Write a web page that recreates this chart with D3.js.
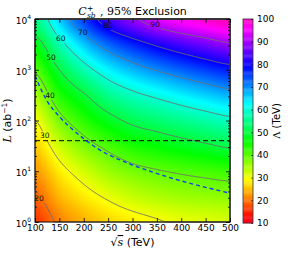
<!DOCTYPE html>
<html>
<head>
<meta charset="utf-8">
<script src="https://cdn.jsdelivr.net/npm/d3@7"></script>
<style>
  body { margin: 0; background: #fff; }
  text { font-family: "DejaVu Sans", sans-serif; white-space: pre; }
</style>
</head>
<body>
<svg id="chart" width="306" height="255"></svg>
<script>
// Lambda (TeV) on a coarse grid:
// columns are sqrt(s) in TeV, rows are log10(L / ab^-1) from bottom to top
const sqrtS = [100, 150, 200, 250, 300, 350, 400, 450, 500];
const logLum = [0, 0.5, 1, 1.5, 2, 2.5, 3, 3.5, 4];
const lambdaGrid = [
  [16.0, 21.1, 24.3, 26.7, 28.3, 29.6, 30.7, 31.4, 32.1],
  [19.1, 24.6, 28.0, 30.7, 33.1, 34.6, 35.6, 36.3, 36.7],
  [22.6, 28.2, 32.3, 35.9, 38.2, 39.6, 40.7, 41.6, 42.5],
  [26.2, 32.7, 37.7, 41.3, 44.4, 46.1, 47.7, 49.2, 50.7],
  [29.8, 38.1, 43.4, 47.8, 51.3, 53.2, 55.1, 56.9, 58.6],
  [35.1, 43.9, 49.4, 55.1, 58.6, 61.1, 63.5, 65.7, 67.7],
  [40.6, 50.0, 57.5, 63.3, 67.3, 70.4, 73.1, 75.5, 77.7],
  [47.1, 57.7, 66.3, 72.7, 77.1, 80.8, 83.9, 86.7, 89.3],
  [54.4, 65.8, 75.4, 83.2, 88.8, 93.4, 96.6, 99.0, 101.0]
];

// contour levels and where their inline labels sit
const contourLevels = [20, 30, 40, 50, 60, 70, 80, 90];
const labelSqrtS = [108, 120, 131, 133, 153, 198, 250, 346];
const labelLum = [2.9, 50, 309, 1780, 4070, 5370, 7410, 7940];

// blue dashed curve
const blueSqrtS = [100, 125, 150, 200, 233, 268, 301, 371, 500];
const blueLum = [759, 240, 120, 44, 26.3, 17.8, 13.2, 7.8, 3.7];

// horizontal reference luminosity
const lumTarget = 40;

const xTicks = [100, 150, 200, 250, 300, 350, 400, 450, 500];
const yTicks = [1, 10, 100, 1000, 10000];
const cbTicks = [10, 20, 30, 40, 50, 60, 70, 80, 90, 100];

// gist_rainbow colour stops
const cmapStops = [0, 0.03, 0.215, 0.4, 0.586, 0.77, 0.954, 1];
const cmapColors = ['rgb(255,0,41)', '#ff0000', '#ffff00', '#00ff00', '#00ffff', '#0000ff', '#ff00ff', 'rgb(255,0,191)'];

const svg = d3.select('#chart');
const x = d3.scaleLinear().domain([100, 500]).range([35, 230]);
const y = d3.scaleLog().domain([1, 1e4]).range([222, 19]);
const cy = d3.scaleLinear().domain([10, 100]).range([223, 19]);
const color = d3.scaleLinear()
  .domain(cmapStops.map(t => 10 + 90 * t))
  .range(cmapColors)
  .clamp(true);

// Catmull-Rom along one axis
function cr(p0, p1, p2, p3, t) {
  return 0.5 * (2 * p1 + (-p0 + p2) * t + (2 * p0 - 5 * p1 + 4 * p2 - p3) * t * t +
    (-p0 + 3 * p1 - 3 * p2 + p3) * t * t * t);
}
function cell(arr, v) {
  const i = Math.min(arr.length - 2, Math.max(0, d3.bisectRight(arr, v) - 1));
  return [i, (v - arr[i]) / (arr[i + 1] - arr[i])];
}
function lambdaAt(s, lg) {
  const [iu, tu] = cell(sqrtS, s);
  const [iv, tv] = cell(logLum, lg);
  const n = sqrtS.length, m = logLum.length;
  const rowVal = r => {
    const row = lambdaGrid[Math.min(m - 1, Math.max(0, r))];
    const g = k => row[Math.min(n - 1, Math.max(0, k))];
    return cr(g(iu - 1), g(iu), g(iu + 1), g(iu + 2), tu);
  };
  return cr(rowVal(iv - 1), rowVal(iv), rowVal(iv + 1), rowVal(iv + 2), tv);
}

// sample field at pixel centres
const x0 = x.range()[0], yTop = y.range()[1];
const W = Math.round(x.range()[1] - x0);
const H = Math.round(y.range()[0] - yTop);
const field = new Float64Array(W * H);
for (let j = 0; j < H; j++) {
  const lg = Math.log10(y.invert(yTop + j + 0.5));
  for (let i = 0; i < W; i++) {
    field[j * W + i] = lambdaAt(x.invert(x0 + i + 0.5), lg);
  }
}

// colour image
const canvas = document.createElement('canvas');
canvas.width = W;
canvas.height = H;
const ctx = canvas.getContext('2d');
const img = ctx.createImageData(W, H);
for (let k = 0; k < W * H; k++) {
  const c = d3.rgb(color(field[k]));
  img.data[4 * k] = c.r;
  img.data[4 * k + 1] = c.g;
  img.data[4 * k + 2] = c.b;
  img.data[4 * k + 3] = 255;
}
ctx.putImageData(img, 0, 0);
svg.append('image')
  .attr('x', x0).attr('y', yTop)
  .attr('width', W).attr('height', H)
  .attr('preserveAspectRatio', 'none')
  .attr('href', canvas.toDataURL());

// mask that opens gaps in the contour lines for labels
const labels = contourLevels.map((v, i) => ({ v: v, s: labelSqrtS[i], L: labelLum[i] }));
const mask = svg.append('defs').append('mask').attr('id', 'lblmask');
mask.append('rect').attr('x', 0).attr('y', 0).attr('width', 306).attr('height', 255).attr('fill', 'white');
mask.selectAll('rect.gap')
  .data(labels)
  .join('rect')
  .attr('class', 'gap')
  .attr('x', d => x(d.s) - 6)
  .attr('y', d => y(d.L) - 4.5)
  .attr('width', 12)
  .attr('height', 9)
  .attr('fill', 'black');

const contours = d3.contours().size([W, H]).thresholds(contourLevels)(field);
const cpath = d3.geoPath(d3.geoIdentity().translate([x0, yTop]));
svg.append('g')
  .attr('mask', 'url(#lblmask)')
  .selectAll('path')
  .data(contours)
  .join('path')
  .attr('d', cpath)
  .attr('fill', 'none')
  .attr('stroke', '#6e6e6e')
  .attr('stroke-width', 1);

svg.append('g')
  .selectAll('text')
  .data(labels)
  .join('text')
  .attr('x', d => x(d.s))
  .attr('y', d => y(d.L))
  .attr('dy', '0.35em')
  .attr('text-anchor', 'middle')
  .attr('font-size', 7.5)
  .attr('fill', '#111')
  .text(d => d.v);

// black dashed target luminosity
svg.append('line')
  .attr('x1', x(100)).attr('x2', x(500))
  .attr('y1', y(lumTarget)).attr('y2', y(lumTarget))
  .attr('stroke', '#000')
  .attr('stroke-width', 1)
  .attr('stroke-dasharray', '5,3');

// blue dashed curve
const blueLine = d3.line()
  .x((d, i) => x(blueSqrtS[i]))
  .y(d => y(d))
  .curve(d3.curveMonotoneX);
svg.append('path')
  .attr('d', blueLine(blueLum))
  .attr('fill', 'none')
  .attr('stroke', '#1a3cf0')
  .attr('stroke-width', 1.4)
  .attr('stroke-dasharray', '4,3');

// frame
svg.append('rect')
  .attr('x', x0).attr('y', yTop)
  .attr('width', W).attr('height', H)
  .attr('fill', 'none')
  .attr('stroke', '#000')
  .attr('stroke-width', 1);

// axes, ticks pointing inward on all four sides
const minorTicks = [];
for (let e = 1; e < 1e4; e *= 10) {
  for (let k = 2; k <= 9; k++) minorTicks.push(k * e);
}
function styleAxis(g) {
  g.select('.domain').remove();
  g.selectAll('line').attr('stroke', '#000').attr('stroke-width', 0.8);
}
svg.append('g')
  .attr('transform', `translate(0,${y.range()[0]})`)
  .call(d3.axisBottom(x).tickValues(xTicks).tickSize(-4).tickPadding(3).tickFormat(d3.format('d')))
  .call(styleAxis)
  .selectAll('text').attr('font-size', 9).attr('fill', '#000');
svg.append('g')
  .attr('transform', `translate(0,${yTop})`)
  .call(d3.axisTop(x).tickValues(xTicks).tickSize(-4).tickFormat(''))
  .call(styleAxis);

const yAxis = svg.append('g')
  .attr('transform', `translate(${x0},0)`)
  .call(d3.axisLeft(y).tickValues(yTicks).tickSize(-4).tickPadding(4).tickFormat(''))
  .call(styleAxis);
yAxis.selectAll('.tick text')
  .attr('font-size', 9)
  .attr('fill', '#000')
  .attr('dy', '0.5em')
  .each(function(d) {
    const t = d3.select(this);
    t.append('tspan').text('10');
    t.append('tspan').attr('font-size', 6).attr('dy', '-0.8em').text(Math.round(Math.log10(d)));
  });
svg.append('g')
  .attr('transform', `translate(${x0},0)`)
  .call(d3.axisLeft(y).tickValues(minorTicks).tickSize(-2).tickFormat(''))
  .call(styleAxis);
svg.append('g')
  .attr('transform', `translate(${x.range()[1]},0)`)
  .call(d3.axisRight(y).tickValues(yTicks).tickSize(-4).tickFormat(''))
  .call(styleAxis);
svg.append('g')
  .attr('transform', `translate(${x.range()[1]},0)`)
  .call(d3.axisRight(y).tickValues(minorTicks).tickSize(-2).tickFormat(''))
  .call(styleAxis);

// axis labels
const xl = svg.append('text')
  .attr('x', 132.5).attr('y', 246)
  .attr('text-anchor', 'middle')
  .attr('font-size', 11);
xl.append('tspan').attr('font-family', 'DejaVu Serif').text('\u221A');
xl.append('tspan').attr('font-family', 'DejaVu Serif').attr('font-style', 'italic')
  .attr('text-decoration', 'overline').text('s');
xl.append('tspan').text(' (TeV)');

const yl = svg.append('text')
  .attr('transform', 'translate(11,120.5) rotate(-90)')
  .attr('text-anchor', 'middle')
  .attr('font-size', 11);
yl.append('tspan').attr('font-family', 'DejaVu Serif').attr('font-style', 'italic').text('L');
yl.append('tspan').text(' (ab');
yl.append('tspan').attr('font-size', 7.5).attr('dy', -4.5).text('\u22121');
yl.append('tspan').attr('dy', 4.5).text(')');

// title: C_sb^+ , 95% Exclusion (one text, stacked super/subscript)
const title = svg.append('text')
  .attr('x', 132.5).attr('y', 15)
  .attr('text-anchor', 'middle')
  .attr('font-size', 11);
title.append('tspan').attr('font-family', 'DejaVu Serif').attr('font-style', 'italic').text('C');
title.append('tspan').attr('font-size', 7.5).attr('dx', 0.5).attr('dy', -4.5).text('+');
title.append('tspan').attr('font-family', 'DejaVu Serif').attr('font-style', 'italic')
  .attr('font-size', 7.5).attr('dx', -6.5).attr('dy', 7).text('sb');
title.append('tspan').attr('font-family', 'DejaVu Serif').attr('dx', 1).attr('dy', -2.5).text(' , 95%');
title.append('tspan').text(' Exclusion');

// colour bar
const cbX = 243, cbW = 10;
const cbSteps = d3.range(10, 100, 0.5);
svg.append('g')
  .selectAll('rect')
  .data(cbSteps)
  .join('rect')
  .attr('x', cbX)
  .attr('y', d => cy(d + 0.5))
  .attr('width', cbW)
  .attr('height', d => cy(d) - cy(d + 0.5) + 0.3)
  .attr('fill', d => color(d + 0.25));
svg.append('rect')
  .attr('x', cbX).attr('y', cy(100))
  .attr('width', cbW).attr('height', cy(10) - cy(100))
  .attr('fill', 'none')
  .attr('stroke', '#333')
  .attr('stroke-width', 0.8);
const cbAxis = svg.append('g')
  .attr('transform', `translate(${cbX + cbW},0)`)
  .call(d3.axisRight(cy).tickValues(cbTicks).tickSize(-2).tickPadding(4).tickFormat(d3.format('d')));
cbAxis.select('.domain').remove();
cbAxis.selectAll('line').attr('stroke', '#000').attr('stroke-width', 0.6);
cbAxis.selectAll('text').attr('font-size', 9).attr('fill', '#000');

const cl = svg.append('text')
  .attr('transform', 'translate(280,121) rotate(-90)')
  .attr('text-anchor', 'middle')
  .attr('font-size', 10);
cl.append('tspan').attr('font-family', 'DejaVu Serif').text('\u039B');
cl.append('tspan').text(' (TeV)');
</script>
</body>
</html>
